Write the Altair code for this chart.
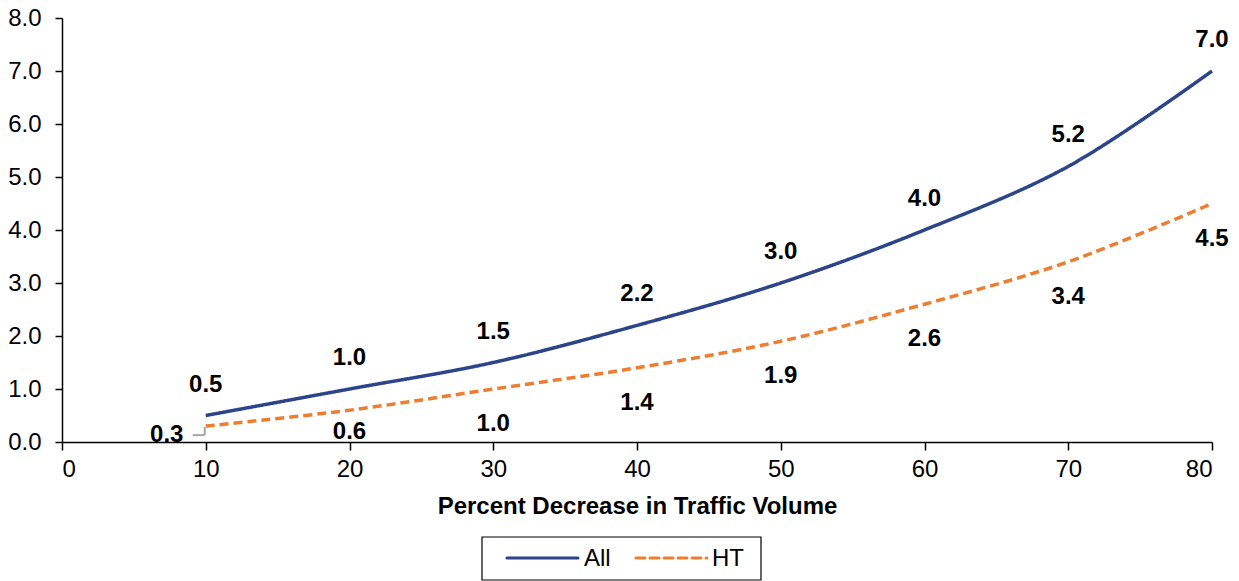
import altair as alt
import pandas as pd

# Percent decrease in traffic volume
pct_decrease = [10, 20, 30, 40, 50, 60, 70, 80]
# Series values
all_vals = [0.5, 1.0, 1.5, 2.2, 3.0, 4.0, 5.2, 7.0]
ht_vals = [0.3, 0.6, 1.0, 1.4, 1.9, 2.6, 3.4, 4.5]
series_names = ["All", "HT"]
series_colors = ["#2C4489", "#ED7D31"]
series_dash = [[1, 0], [9, 5]]

rows = []
for name, vals in zip(series_names, [all_vals, ht_vals]):
    for x, v in zip(pct_decrease, vals):
        rows.append({"pct": x, "value": v, "series": name})
df = pd.DataFrame(rows)

FONT = "Liberation Sans"
FS = 24

x_enc = alt.X("pct:Q", scale=alt.Scale(domain=[0, 80], nice=False),
              axis=alt.Axis(values=list(range(0, 81, 10)), title="Percent Decrease in Traffic Volume"))
y_enc = alt.Y("value:Q", scale=alt.Scale(domain=[0, 8], nice=False),
              axis=alt.Axis(values=list(range(0, 9)), format=".1f", title=None))

base = alt.Chart(df)

lines = base.mark_line(interpolate="catmull-rom", strokeWidth=3.5).encode(
    x=x_enc,
    y=y_enc,
    color=alt.Color("series:N", scale=alt.Scale(domain=series_names, range=series_colors), legend=None),
    strokeDash=alt.StrokeDash("series:N", scale=alt.Scale(domain=series_names, range=series_dash),
                              legend=None),
)

text_style = dict(font=FONT, fontSize=FS, fontWeight="bold", color="black",
                  align="center", baseline="middle")

all_labels = base.transform_filter(alt.datum.series == "All").mark_text(dy=-31, **text_style).encode(
    x="pct:Q", y="value:Q", text=alt.Text("value:Q", format=".1f"))

ht_labels = base.transform_filter((alt.datum.series == "HT") & (alt.datum.pct >= 30)).mark_text(
    dy=35, **text_style).encode(x="pct:Q", y="value:Q", text=alt.Text("value:Q", format=".1f"))

ht_label_20 = base.transform_filter((alt.datum.series == "HT") & (alt.datum.pct == 20)).mark_text(
    dy=22, **text_style).encode(x="pct:Q", y="value:Q", text=alt.Text("value:Q", format=".1f"))

ht_label_10 = base.transform_filter((alt.datum.series == "HT") & (alt.datum.pct == 10)).mark_text(
    dx=-39, dy=9, **text_style).encode(x="pct:Q", y="value:Q", text=alt.Text("value:Q", format=".1f"))

# leader line for the moved 0.3 label
first_ht = base.transform_filter((alt.datum.series == "HT") & (alt.datum.pct == 10))
leader_h = first_ht.mark_rule(color="#A6A6A6", strokeWidth=2, xOffset=-13, x2Offset=-1,
                              yOffset=9, y2Offset=9).encode(x="pct:Q", x2="pct:Q", y="value:Q")
leader_v = first_ht.mark_rule(color="#A6A6A6", strokeWidth=2, xOffset=-1, x2Offset=-1,
                              yOffset=1, y2Offset=9).encode(x="pct:Q", y="value:Q", y2="value:Q")

# boxed legend below the axis title
legend_src = alt.Chart(pd.DataFrame({"series": series_names}))
legend_box = legend_src.transform_filter(alt.datum.series == "All").mark_rect(
    fill="white", stroke="black", strokeWidth=1.2).encode(
    x=alt.value(420), x2=alt.value(699), y=alt.value(519), y2=alt.value(562))
legend_layers = [legend_box]
for name, color, dash, x0, xt in zip(series_names, series_colors, series_dash, [445, 574], [522, 650]):
    item = legend_src.transform_filter(alt.datum.series == name)
    legend_layers.append(item.mark_rule(color=color, strokeWidth=3, strokeDash=dash, strokeCap="round").encode(
        x=alt.value(x0), x2=alt.value(x0 + 71), y=alt.value(540)))
    legend_layers.append(item.mark_text(font=FONT, fontSize=FS, color="black", align="left",
                                        baseline="middle").encode(
        x=alt.value(xt), y=alt.value(541), text="series:N"))

chart = alt.layer(leader_h, leader_v, lines, all_labels, ht_labels, ht_label_20, ht_label_10,
                  *legend_layers).properties(
    width=1150, height=424,
    autosize=alt.AutoSizeParams(type="none"),
    padding={"left": 62, "top": 18, "right": 27, "bottom": 139},
    background="white",
).configure_view(stroke=None).configure_axis(
    grid=False, domainColor="black", domainWidth=1.5, tickColor="black", tickWidth=1.5,
    labelFont=FONT, labelFontSize=FS, labelColor="black",
    titleFont=FONT, titleFontSize=FS, titleFontWeight="bold", titleColor="black",
).configure_axisX(tickSize=8, labelPadding=7, titlePadding=13).configure_axisY(
    tickSize=7, labelPadding=14)

chart.save("out.html", embed_options={"renderer": "svg", "actions": False})
